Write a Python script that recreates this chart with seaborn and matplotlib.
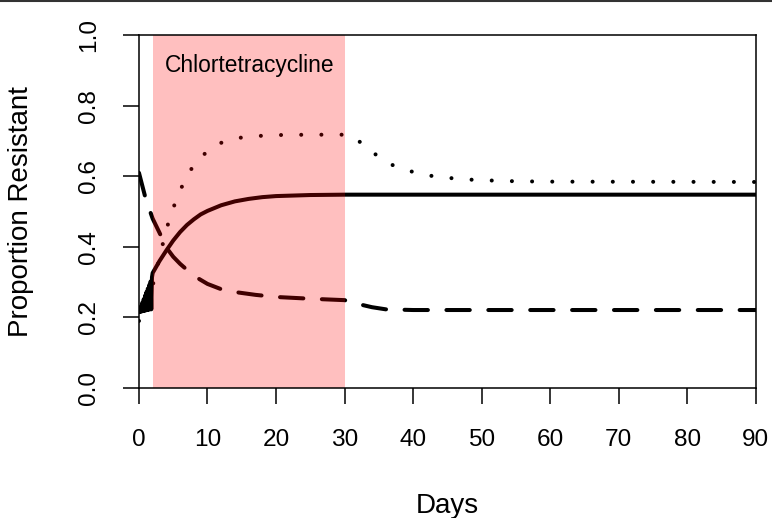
import matplotlib
matplotlib.use("Agg")
import matplotlib.pyplot as plt
from matplotlib.lines import Line2D
from matplotlib.patches import Rectangle
import seaborn as sns

# Solid curve: rapid oscillation over the first two days, then smooth rise
solid_days = [0.0, 0.1, 0.2, 0.3, 0.4, 0.5, 0.6, 0.7, 0.8, 0.9, 1.0,
              1.1, 1.2, 1.3, 1.4, 1.5, 1.6, 1.7, 1.8, 1.9, 2.0,
              3, 4, 5, 6, 7, 8, 9, 10, 12, 14, 16, 18, 20, 25, 30, 90]
solid_vals = [0.215, 0.222, 0.216, 0.232, 0.217, 0.242, 0.218, 0.252, 0.219, 0.262, 0.220,
              0.272, 0.221, 0.282, 0.222, 0.292, 0.223, 0.302, 0.223, 0.314, 0.326,
              0.360, 0.390, 0.418, 0.442, 0.462, 0.478, 0.492, 0.502, 0.518, 0.529,
              0.536, 0.541, 0.544, 0.547, 0.548, 0.548]

dashed_days = [0, 1, 2, 3, 4, 5, 6, 7, 8, 10, 12, 14, 17, 20, 25, 30, 32, 34, 36, 40, 50, 90]
dashed_vals = [0.610, 0.535, 0.480, 0.440, 0.398, 0.372, 0.352, 0.335, 0.318, 0.295, 0.280,
               0.272, 0.264, 0.258, 0.253, 0.249, 0.238, 0.229, 0.223, 0.221, 0.221, 0.221]

dotted_days = [0, 1, 2, 3, 4, 5, 6, 7, 8, 10, 12, 14, 16, 20, 25, 30, 31.4, 33, 35, 37,
               39.5, 42, 44, 47, 50, 55, 60, 90]
dotted_vals = [0.190, 0.230, 0.290, 0.370, 0.450, 0.510, 0.560, 0.600, 0.632, 0.672, 0.695,
               0.707, 0.713, 0.717, 0.718, 0.718, 0.711, 0.685, 0.655, 0.632,
               0.615, 0.603, 0.598, 0.592, 0.589, 0.586, 0.585, 0.584]

treat_start, treat_end = 2, 30
treat_label = "Chlortetracycline"
x_ticks = [0, 10, 20, 30, 40, 50, 60, 70, 80, 90]
y_ticks = [0.0, 0.2, 0.4, 0.6, 0.8, 1.0]

sns.set_style("white")
plt.rcParams["font.family"] = ["Liberation Sans", "DejaVu Sans"]
plt.rcParams["text.color"] = "black"
plt.rcParams["axes.labelcolor"] = "black"
plt.rcParams["xtick.color"] = "black"
plt.rcParams["ytick.color"] = "black"

fig = plt.figure(figsize=(7.72, 5.18), dpi=100)
ax = fig.add_axes([0.180, 0.251, 0.799, 0.681])

lw = 2.9
sns.lineplot(x=solid_days, y=solid_vals, ax=ax, color="black", lw=lw,
             estimator=None, solid_capstyle="round", solid_joinstyle="round")
sns.lineplot(x=dashed_days, y=dashed_vals, ax=ax, color="black", lw=lw,
             estimator=None, linestyle=(0, (5.8, 4.6)), dash_capstyle="round")
sns.lineplot(x=dotted_days, y=dotted_vals, ax=ax, color="black", lw=lw,
             estimator=None, linestyle=(0, (0.01, 5.0)), dash_capstyle="round")

# treatment window shaded over the curves
ax.add_patch(Rectangle((treat_start, 0), treat_end - treat_start, 1,
                       facecolor="red", alpha=0.25, edgecolor="none", zorder=5))
ax.text((treat_start + treat_end) / 2 + 0.2, 0.915, treat_label, ha="center", va="center",
        fontsize=16.4, color="black", zorder=6)

ax.set_xlim(0, 90)
ax.set_ylim(0, 1)
ax.set_xticks(x_ticks)
ax.set_yticks(y_ticks)
ax.set_xticklabels([str(t) for t in x_ticks])
ax.set_yticklabels([f"{t:.1f}" for t in y_ticks], rotation=90, va="center")
ax.tick_params(axis="both", direction="out", length=11.5, width=1.1,
               labelsize=17.6, pad=16.5, color="black", labelcolor="black",
               left=True, bottom=True)
ax.tick_params(axis="x", pad=18)
for s in ax.spines.values():
    s.set_color("black")
    s.set_linewidth(1.1)
    s.set_zorder(7)

ax.set_xlabel("Days", fontsize=20, labelpad=30, color="black")
ax.set_ylabel("Proportion Resistant", fontsize=20, labelpad=32, color="black")

fig.add_artist(Line2D([0, 1], [0.999, 0.999], color="#333333", lw=1.5,
                      transform=fig.transFigure))

fig.savefig("out.png", dpi=100)
